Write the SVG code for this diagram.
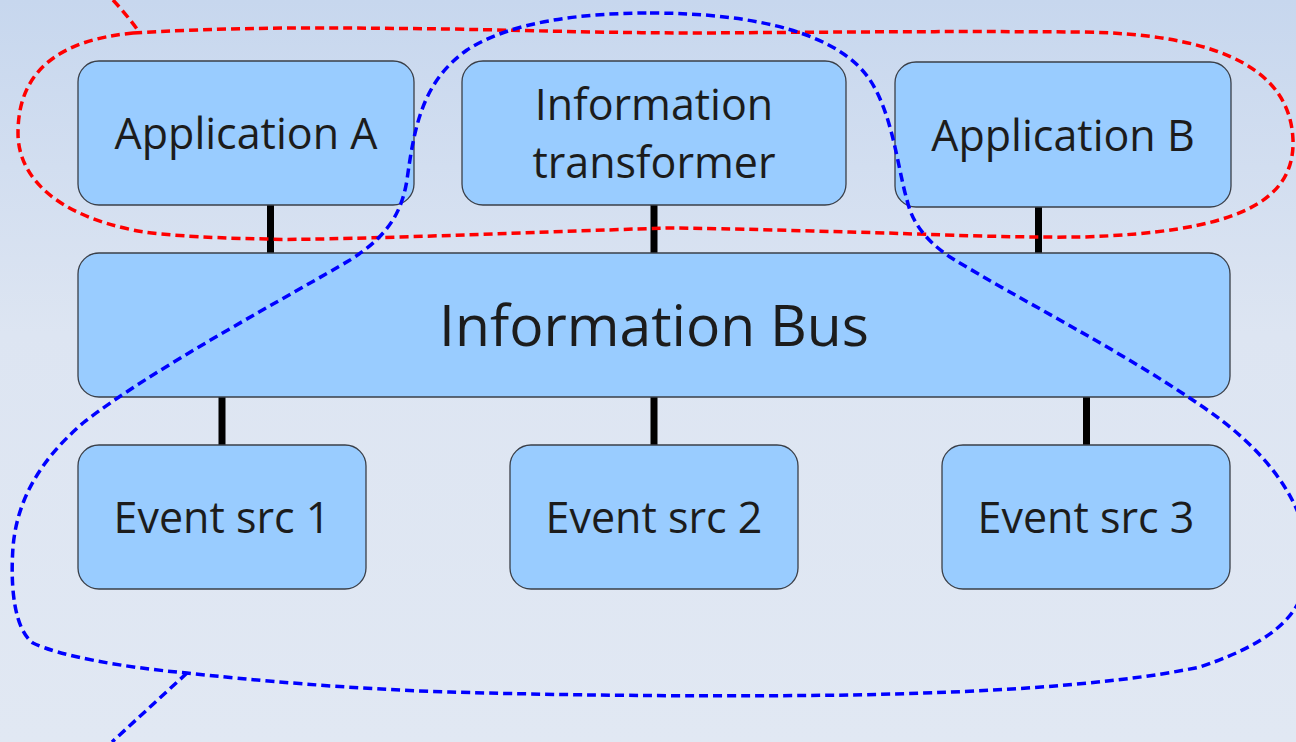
<svg xmlns="http://www.w3.org/2000/svg" width="1296" height="742" viewBox="0 0 1296 742">
<defs>
<linearGradient id="bg" x1="0" y1="0" x2="0" y2="1">
<stop offset="0" stop-color="#c7d7ee"/>
<stop offset="0.45" stop-color="#dde5f2"/>
<stop offset="1" stop-color="#e1e8f3"/>
</linearGradient>
<style>
.box{fill:#99ccff;stroke:#3a3f48;stroke-width:1.3}
.lbl{font-family:"Open Sans","Noto Sans",sans-serif;font-size:43px;fill:#1c1c1c;text-anchor:middle}
.big{font-size:57px}
.conn{stroke:#000;stroke-width:7;fill:none}
.dash{fill:none;stroke-width:3.5;stroke-dasharray:9 5}
.red{stroke:#ff0000}
.blue{stroke:#0000ff}
</style>
</defs>
<rect x="0" y="0" width="1296" height="742" fill="url(#bg)"/>
<g id="connectors">
<line class="conn" x1="270.5" y1="205" x2="270.5" y2="253"/>
<line class="conn" x1="654" y1="205" x2="654" y2="253"/>
<line class="conn" x1="1038.5" y1="207" x2="1038.5" y2="253"/>
<line class="conn" x1="222" y1="397" x2="222" y2="445"/>
<line class="conn" x1="654" y1="397" x2="654" y2="445"/>
<line class="conn" x1="1086.5" y1="397" x2="1086.5" y2="445"/>
</g>
<g id="appA">
<rect class="box" x="78" y="61" width="336" height="144" rx="21"/>
<text class="lbl" x="246" y="149">Application A</text>
</g>
<g id="transformer">
<rect class="box" x="462" y="61" width="384" height="144" rx="21"/>
<text class="lbl" x="654" y="120">Information</text>
<text class="lbl" x="654" y="178">transformer</text>
</g>
<g id="appB">
<rect class="box" x="895" y="62" width="336" height="145" rx="21"/>
<text class="lbl" x="1063" y="151">Application B</text>
</g>
<g id="bus">
<rect class="box" x="78" y="253" width="1152" height="144" rx="21"/>
<text class="lbl big" x="654" y="346">Information Bus</text>
</g>
<g id="src1">
<rect class="box" x="78" y="445" width="288" height="144" rx="21"/>
<text class="lbl" x="222" y="533">Event src 1</text>
</g>
<g id="src2">
<rect class="box" x="510" y="445" width="288" height="144" rx="21"/>
<text class="lbl" x="654" y="533">Event src 2</text>
</g>
<g id="src3">
<rect class="box" x="942" y="445" width="288" height="144" rx="21"/>
<text class="lbl" x="1086" y="533">Event src 3</text>
</g>
<g id="groups">
<path class="dash red" d="M113,0 Q126,14 137,29"/>
<path class="dash red" d="M133,33 C250,26 350,28 450,29 C550,31 620,33 700,33 C850,32 950,31 1083,32 C1200,34 1290,60 1293,140 C1295,205 1230,232 1083,237 C1000,238 900,233 850,232 C780,230 700,228 667,228 C600,230 500,234 400,237 C330,239 280,240 267,239 C200,238 150,234 133,230 C60,215 18,180 18,133 C18,70 60,40 133,33 Z"/>
<path class="dash blue" d="M650,13 C760,13 840,35 870,80 C893,115 898,170 907,200 C912,222 925,240 950,257 C1020,300 1120,350 1200,405 C1265,448 1310,505 1308,565 C1306,610 1280,640 1200,667 C1100,688 950,693 850,695 C700,697 550,695 450,692 C350,689 250,680 187,673 C120,667 60,656 33,643 C15,630 10,590 13,547 C17,500 40,460 83,423 C150,370 300,290 350,260 C390,235 402,210 407,180 C415,120 425,80 467,50 C510,22 580,13 650,13 Z"/>
<path class="dash blue" d="M187,673 L112,742"/>
</g>
</svg>
